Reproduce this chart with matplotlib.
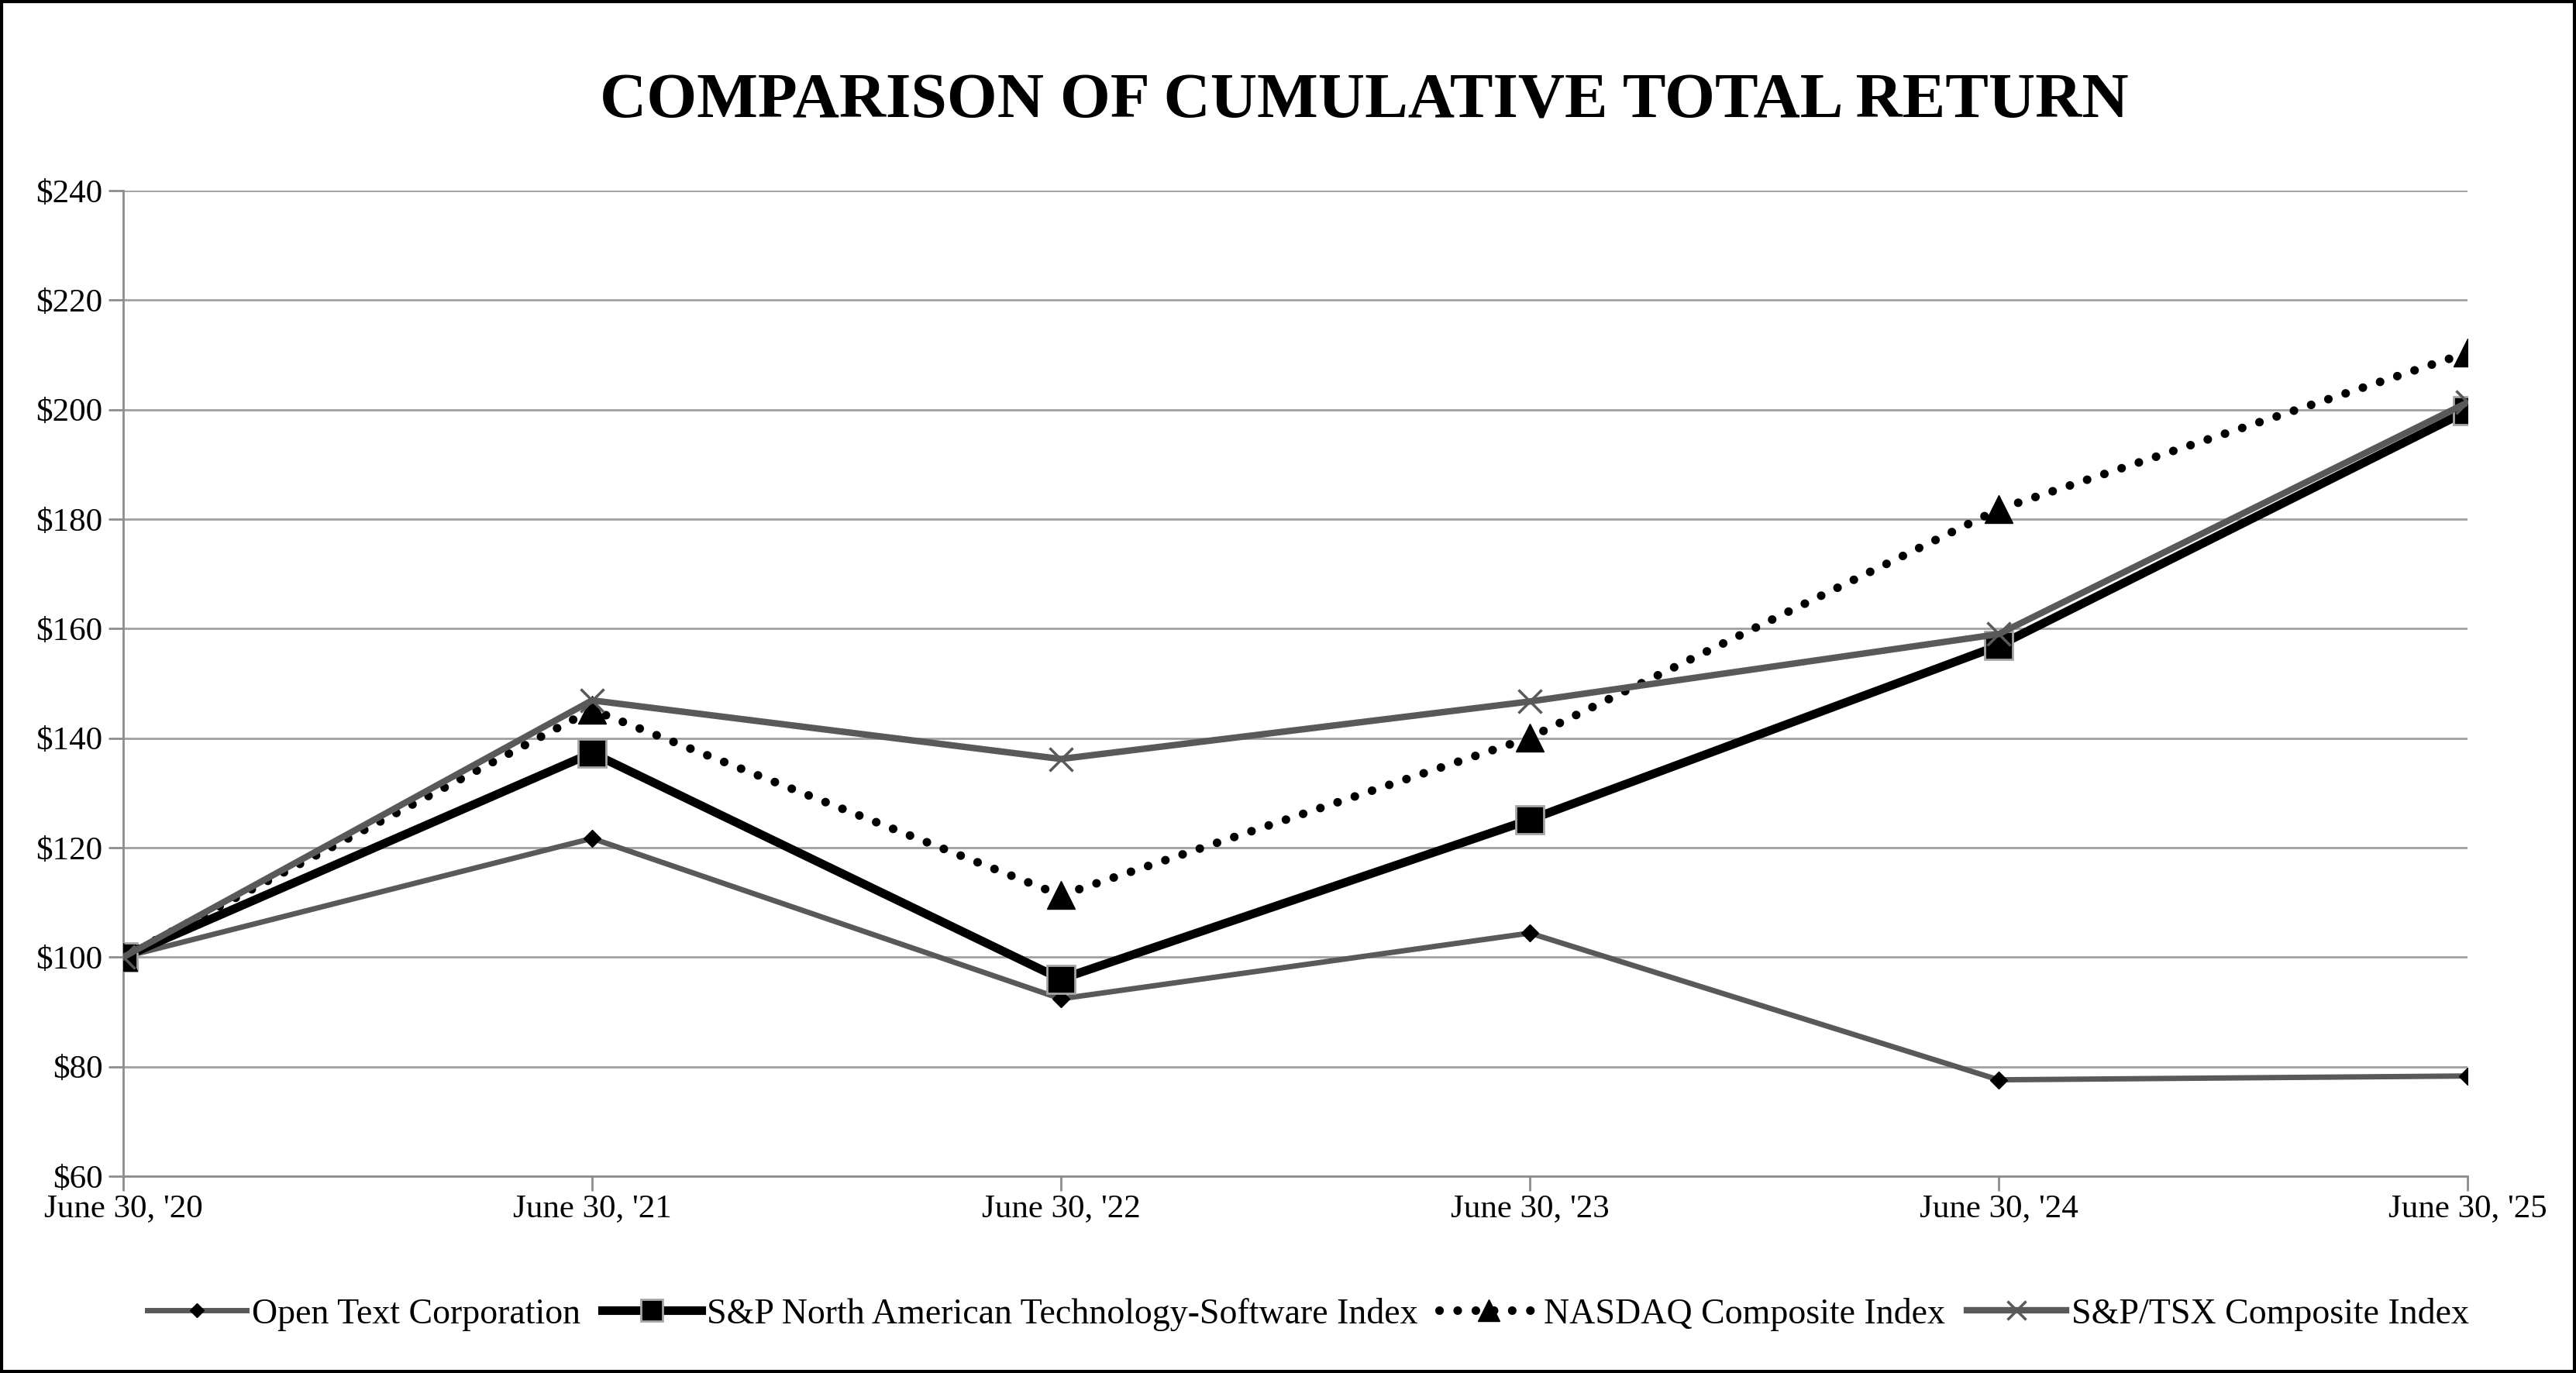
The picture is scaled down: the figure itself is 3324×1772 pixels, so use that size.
import matplotlib
matplotlib.use("Agg")
import matplotlib.pyplot as plt
from matplotlib.patches import Rectangle

plt.rcParams['font.family'] = ['Liberation Serif', 'DejaVu Serif']

categories = ["June 30, '20", "June 30, '21", "June 30, '22", "June 30, '23", "June 30, '24", "June 30, '25"]
open_text = [100, 121.7, 92.4, 104.4, 77.6, 78.3]
sp_software = [100, 137.3, 96.0, 125.1, 156.9, 199.8]
nasdaq = [100, 145.2, 111.3, 140.1, 181.8, 210.4]
tsx = [100, 146.9, 136.2, 146.7, 159.0, 201.3]
yticks = [60, 80, 100, 120, 140, 160, 180, 200, 220, 240]
title = "COMPARISON OF CUMULATIVE TOTAL RETURN"

W, H = 3324, 1772
fig = plt.figure(figsize=(W/100, H/100), dpi=100)
ax = fig.add_axes([159/W, 1 - 1518/H, (3184-159)/W, (1518-246)/H])

x = list(range(len(categories)))
gray = '#595959'
ax.plot(x, open_text, color=gray, lw=5, marker='D', ms=11, mfc='black', mec='black', label='Open Text Corporation', zorder=3)
ax.plot(x, sp_software, color='black', lw=8, marker='s', ms=26, mfc='black', mec='#a6a6a6', mew=2, label='S&P North American Technology-Software Index', zorder=4)
ax.plot(x, nasdaq, color='black', lw=8, ls=(0, (0.01, 2.1)), dash_capstyle='round', marker='^', ms=26, mfc='black', mec='black', label='NASDAQ Composite Index', zorder=5)
ax.plot(x, tsx, color=gray, lw=6, marker='x', ms=22, mec=gray, mew=2.5, label='S&P/TSX Composite Index', zorder=6)

ax.set_xlim(0, len(categories) - 1)
ax.set_ylim(60, 240)
ax.set_yticks(yticks)
ax.set_yticklabels([f"${v}" for v in yticks])
ax.set_xticks(x)
ax.set_xticklabels(categories)
ax.yaxis.grid(True, color='#a0a0a0', lw=2)
ax.set_axisbelow(True)
for s in ['top', 'right']:
    ax.spines[s].set_visible(False)
for s in ['left', 'bottom']:
    ax.spines[s].set_color('#8c8c8c')
    ax.spines[s].set_linewidth(2)
ax.tick_params(axis='y', length=14, width=2, color='#8c8c8c', labelsize=31, pad=5, direction='out')
ax.tick_params(axis='x', length=14, width=2, color='#8c8c8c', labelsize=31, pad=2, direction='out')

fig.text(1760/W, 1 - 132/H, title, ha='center', va='center', fontsize=60, fontweight='bold')

leg = fig.legend(loc='center', bbox_to_anchor=(1688/W, 1 - 1696/H), ncol=4, frameon=False,
                 fontsize=33, handlelength=2.8, columnspacing=0.6, handletextpad=0.15, markerscale=0.8)

fig.patches.append(Rectangle((0.0005, 0.001), 0.999, 0.998, transform=fig.transFigure,
                             fill=False, edgecolor='black', lw=3))
fig.savefig('out.png', dpi=100)
